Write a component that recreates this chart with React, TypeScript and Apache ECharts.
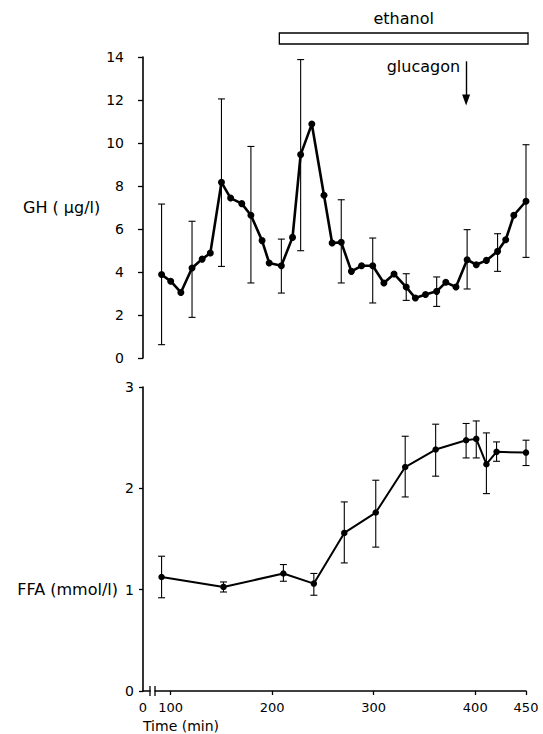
import React, { useEffect, useRef } from "react";
import * as echarts from "echarts";

// GH (µg/l) time course
const ghTimes = [91, 100, 110, 121, 131, 139, 150, 159, 170, 179, 190, 197, 209, 220, 228, 239, 251, 259, 268, 278, 288, 299, 310, 320, 332, 341, 351, 362, 371, 381, 392, 401, 411, 422, 430, 438, 450];
const ghValues = [3.88, 3.57, 3.05, 4.19, 4.6, 4.88, 8.17, 7.44, 7.18, 6.64, 5.46, 4.42, 4.29, 5.61, 9.46, 10.88, 7.57, 5.35, 5.38, 4.03, 4.29, 4.29, 3.49, 3.91, 3.3, 2.79, 2.95, 3.1, 3.52, 3.3, 4.57, 4.34, 4.54, 4.96, 5.5, 6.64, 7.29];
const ghErrTimes = [91, 121, 150, 179, 209, 228, 268, 299, 332, 362, 392, 422, 450];
const ghErrLow = [0.62, 1.89, 4.26, 3.49, 3.02, 4.99, 3.49, 2.56, 2.68, 2.4, 3.21, 4.03, 4.68];
const ghErrHigh = [7.16, 6.36, 12.05, 9.84, 5.53, 13.88, 7.36, 5.58, 3.92, 3.77, 5.97, 5.78, 9.92];

// FFA (mmol/l) time course
const ffaTimes = [91, 152, 211, 241, 271, 302, 331, 361, 391, 401, 411, 421, 450];
const ffaValues = [1.125, 1.027, 1.159, 1.06, 1.56, 1.761, 2.21, 2.383, 2.475, 2.488, 2.238, 2.36, 2.353];
const ffaErrLow = [0.92, 0.977, 1.083, 0.945, 1.264, 1.42, 1.915, 2.12, 2.3, 2.3, 1.948, 2.267, 2.225];
const ffaErrHigh = [1.33, 1.076, 1.248, 1.16, 1.866, 2.08, 2.514, 2.633, 2.64, 2.665, 2.547, 2.458, 2.475];

// axes
const xMin = 72.7;
const xMax = 450;
const xLabelValues = [100, 200, 300, 400, 450];
const ghMax = 14;
const ghStep = 2;
const ffaMax = 3;
const ffaStep = 1;

// annotations
const ethanolStart = 207;
const ethanolEnd = 452;
const glucagonTime = 391;
const glucagonArrowTop = 13.8;
const glucagonArrowTip = 12.0;
const ffaLabelValue = 1;

const FONT = "DejaVu Sans";
const BLACK = "#000";

function errorBar(params: any, api: any) {
  const t = api.value(0);
  const lo = api.coord([t, api.value(1)]);
  const hi = api.coord([t, api.value(2)]);
  const hw = 3.5;
  const style = { stroke: BLACK, lineWidth: 1.1 };
  return {
    type: "group",
    children: [
      { type: "line", shape: { x1: lo[0], y1: lo[1], x2: hi[0], y2: hi[1] }, style },
      { type: "line", shape: { x1: lo[0] - hw, y1: lo[1], x2: lo[0] + hw, y2: lo[1] }, style },
      { type: "line", shape: { x1: hi[0] - hw, y1: hi[1], x2: hi[0] + hw, y2: hi[1] }, style },
    ],
  };
}

export default function App() {
  const ref = useRef<HTMLDivElement>(null);
  useEffect(() => {
    if (!ref.current) return;
    const chart = echarts.init(ref.current, null, { renderer: "svg" });
    const axisLine = { show: true, lineStyle: { color: BLACK, width: 1.6 } };
    const option: any = {
      animation: false,
      backgroundColor: "#fff",
      textStyle: { fontFamily: FONT, color: BLACK },
      grid: [
        { left: 143, top: 57, width: 383, height: 301 },
        { left: 143, top: 387, width: 383, height: 304 },
      ],
      xAxis: [
        { type: "value", gridIndex: 0, min: xMin, max: xMax, show: false },
        {
          type: "value",
          gridIndex: 1,
          min: xMin,
          max: xMax,
          axisLine,
          splitLine: { show: false },
          axisTick: { show: true, length: 4, lineStyle: { color: BLACK, width: 1.3 }, customValues: xLabelValues },
          axisLabel: {
            customValues: [xMin, ...xLabelValues],
            formatter: (v: number) => (v < 90 ? "0" : String(v)),
            color: BLACK,
            fontFamily: FONT,
            fontSize: 13,
            margin: 10,
          },
        },
      ],
      yAxis: [
        {
          type: "value",
          gridIndex: 0,
          min: 0,
          max: ghMax,
          interval: ghStep,
          axisLine,
          splitLine: { show: false },
          axisTick: { show: true, length: 5, lineStyle: { color: BLACK, width: 1.3 } },
          axisLabel: { color: BLACK, fontFamily: FONT, fontSize: 14, margin: 19 },
          name: "GH ( µg/l)",
          nameLocation: "middle",
          nameRotate: 0,
          nameGap: 36,
          nameTextStyle: { color: BLACK, fontFamily: FONT, fontSize: 16, align: "right" },
        },
        {
          type: "value",
          gridIndex: 1,
          min: 0,
          max: ffaMax,
          interval: ffaStep,
          axisLine,
          splitLine: { show: false },
          axisTick: { show: true, length: 4, lineStyle: { color: BLACK, width: 1.3 } },
          axisLabel: { color: BLACK, fontFamily: FONT, fontSize: 14, margin: 9 },
        },
      ],
      series: [
        {
          type: "custom",
          xAxisIndex: 0,
          yAxisIndex: 0,
          renderItem: errorBar,
          clip: false,
          data: ghErrTimes.map((t, i) => [t, ghErrLow[i], ghErrHigh[i]]),
          encode: { x: 0, y: [1, 2] },
          z: 1,
        },
        {
          type: "line",
          xAxisIndex: 0,
          yAxisIndex: 0,
          clip: false,
          data: ghTimes.map((t, i) => [t, ghValues[i]]),
          symbol: "circle",
          symbolSize: 7,
          itemStyle: { color: BLACK },
          lineStyle: { color: BLACK, width: 2.6 },
          z: 2,
          markLine: {
            silent: true,
            symbol: ["none", "triangle"],
            symbolSize: [8, 11],
            symbolRotate: 180,
            label: { show: false },
            lineStyle: { color: BLACK, width: 1.4, type: "solid" },
            data: [[{ coord: [glucagonTime, glucagonArrowTop] }, { coord: [glucagonTime, glucagonArrowTip] }]],
          },
        },
        {
          type: "custom",
          xAxisIndex: 1,
          yAxisIndex: 1,
          renderItem: errorBar,
          clip: false,
          data: ffaTimes.map((t, i) => [t, ffaErrLow[i], ffaErrHigh[i]]),
          encode: { x: 0, y: [1, 2] },
          z: 1,
        },
        {
          type: "line",
          xAxisIndex: 1,
          yAxisIndex: 1,
          clip: false,
          data: ffaTimes.map((t, i) => [t, ffaValues[i]]),
          symbol: "circle",
          symbolSize: 6.5,
          itemStyle: { color: BLACK },
          lineStyle: { color: BLACK, width: 2 },
          z: 2,
        },
      ],
    };
    chart.setOption(option);

    const e0 = chart.convertToPixel({ gridIndex: 0 }, [ethanolStart, ghMax]) as number[];
    const e1 = chart.convertToPixel({ gridIndex: 0 }, [ethanolEnd, ghMax]) as number[];
    const g = chart.convertToPixel({ gridIndex: 0 }, [glucagonTime, glucagonArrowTop]) as number[];
    const origin = chart.convertToPixel({ gridIndex: 1 }, [xMin, 0]) as number[];
    const ffaLab = chart.convertToPixel({ gridIndex: 1 }, [xMin, ffaLabelValue]) as number[];

    chart.setOption({
      graphic: [
        {
          type: "rect",
          shape: { x: e0[0], y: e0[1] - 24, width: e1[0] - e0[0], height: 11 },
          style: { fill: "#fff", stroke: BLACK, lineWidth: 1.3 },
        },
        {
          type: "text",
          x: (e0[0] + e1[0]) / 2,
          y: e0[1] - 39,
          style: { text: "ethanol", font: `16px "${FONT}"`, fill: BLACK, align: "center", verticalAlign: "middle" },
        },
        {
          type: "text",
          x: g[0] - 6,
          y: g[1] + 5,
          style: { text: "glucagon", font: `16px "${FONT}"`, fill: BLACK, align: "right", verticalAlign: "middle" },
        },
        {
          type: "text",
          x: ffaLab[0] - 25,
          y: ffaLab[1],
          style: { text: "FFA (mmol/l)", font: `16px "${FONT}"`, fill: BLACK, align: "right", verticalAlign: "middle" },
        },
        {
          type: "text",
          x: origin[0],
          y: origin[1] + 35,
          style: { text: "Time (min)", font: `14px "${FONT}"`, fill: BLACK, align: "left", verticalAlign: "middle" },
        },
        {
          type: "rect",
          shape: { x: origin[0] + 7.5, y: origin[1] - 2, width: 4, height: 4 },
          style: { fill: "#fff" },
          z: 100,
        },
        {
          type: "line",
          shape: { x1: origin[0] + 7, y1: origin[1] - 5, x2: origin[0] + 7, y2: origin[1] + 5 },
          style: { stroke: BLACK, lineWidth: 1.3 },
          z: 101,
        },
        {
          type: "line",
          shape: { x1: origin[0] + 12, y1: origin[1] - 5, x2: origin[0] + 12, y2: origin[1] + 5 },
          style: { stroke: BLACK, lineWidth: 1.3 },
          z: 101,
        },
      ],
    });

    return () => chart.dispose();
  }, []);
  return <div ref={ref} style={{ position: "absolute", left: 0, top: 0, width: 543, height: 734 }} />;
}
